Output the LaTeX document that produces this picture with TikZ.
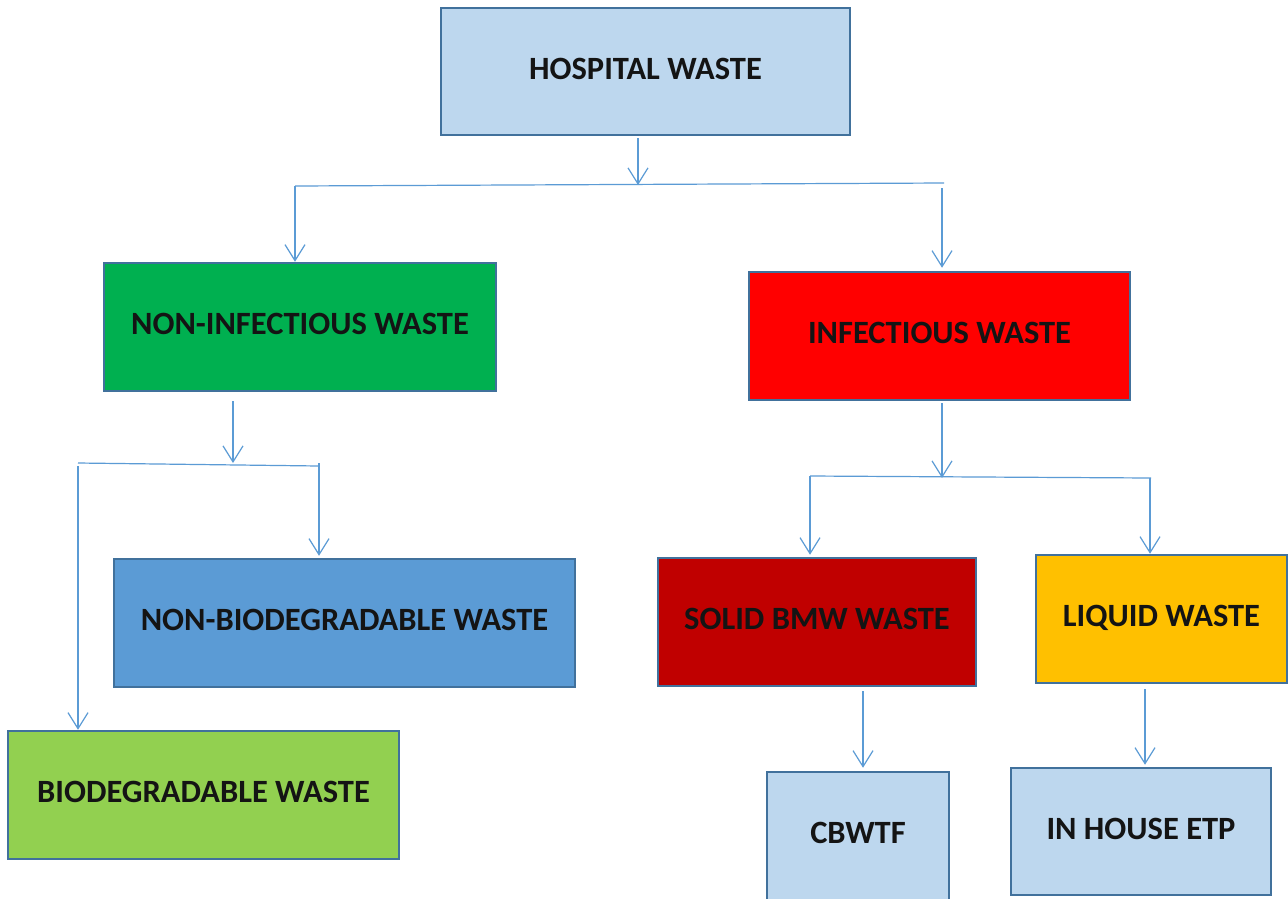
\documentclass[tikz,border=0pt]{standalone}
\usepackage{fontspec}
\setmainfont{Carlito}
\usetikzlibrary{arrows.meta}
\definecolor{lb}{HTML}{BDD7EE}
\definecolor{bord}{HTML}{41719C}
\definecolor{ln}{HTML}{5B9BD5}
\definecolor{gr}{HTML}{00B050}
\definecolor{rd}{HTML}{FF0000}
\definecolor{mb}{HTML}{5B9BD5}
\definecolor{lg}{HTML}{92D050}
\definecolor{dr}{HTML}{C00000}
\definecolor{gd}{HTML}{FFC000}
\definecolor{tx}{HTML}{141414}
\begin{document}
\begin{tikzpicture}[x=1pt,y=-1pt,
  box/.style={draw=bord, line width=2.5pt, font=\fontsize{32.5}{35}\selectfont\bfseries, text=tx, inner sep=0pt, text depth=6pt},
  conn/.style={draw=ln, line width=1.2pt},
  arr/.style={conn, -{Straight Barb[length=16pt,width=20pt,line width=1.2pt]}}]
\useasboundingbox (0,0) rectangle (1288,898);
\clip (0,0) rectangle (1288,898);
\fill[white] (0,0) rectangle (1288,898);
% boxes
\node[box, fill=lb, minimum width=409pt, minimum height=127pt] (hosp) at (645.5,71.5) {HOSPITAL WASTE};
\node[box, fill=gr, minimum width=392pt, minimum height=128pt] (noninf) at (300,327) {NON-INFECTIOUS WASTE};
\node[box, fill=rd, minimum width=381pt, minimum height=128pt] (inf) at (939.5,336) {INFECTIOUS WASTE};
\node[box, fill=mb, minimum width=461pt, minimum height=128pt] (nonbio) at (344.5,623) {NON-BIODEGRADABLE WASTE};
\node[box, fill=lg, minimum width=391pt, minimum height=128pt] (bio) at (203.5,795) {BIODEGRADABLE WASTE};
\node[box, fill=dr, minimum width=318pt, minimum height=128pt] (solid) at (817,622) {SOLID BMW WASTE};
\node[box, fill=gd, minimum width=251pt, minimum height=128pt] (liquid) at (1161.5,619) {LIQUID WASTE};
\node[box, fill=lb, minimum width=182pt, minimum height=128pt] (cbwtf) at (858,836) {CBWTF};
\node[box, fill=lb, minimum width=260pt, minimum height=127pt] (etp) at (1141,831.5) {IN HOUSE ETP};
% junctions
\coordinate (h1) at (638,185);
\coordinate (hL) at (295,186);
\coordinate (hR) at (944,183);
\coordinate (hRv) at (942,188);
\coordinate (k1) at (233,463);
\coordinate (kL) at (78,463);
\coordinate (kLv) at (78,466);
\coordinate (kR) at (319,466);
\coordinate (kRv) at (319,463);
\coordinate (m1) at (942,478);
\coordinate (mL) at (810,476);
\coordinate (mR) at (1151,478);
\coordinate (mRv) at (1150,478);
\coordinate (s1) at (863,0);
\coordinate (l1) at (1145,0);
% connectors
\draw[arr, shorten <=2pt] (hosp.south -| h1) -- (h1);
\draw[conn] (hL) -- (hR);
\draw[arr] (hL) -- (noninf.north -| hL);
\draw[arr, shorten >=3pt] (hRv) -- (inf.north -| hRv);
\draw[arr, shorten <=9pt] (noninf.south -| k1) -- (k1);
\draw[conn] (kL) -- (kR);
\draw[arr] (kLv) -- (bio.north -| kLv);
\draw[arr, shorten >=2pt] (kRv) -- (nonbio.north -| kRv);
\draw[arr, shorten <=2pt] (inf.south -| m1) -- (m1);
\draw[conn] (mL) -- (mR);
\draw[arr, shorten >=2pt] (mL) -- (solid.north -| mL);
\draw[arr] (mRv) -- (liquid.north -| mRv);
\draw[arr, shorten <=4pt, shorten >=3pt] (solid.south -| s1) -- (cbwtf.north -| s1);
\draw[arr, shorten <=5pt, shorten >=2pt] (liquid.south -| l1) -- (etp.north -| l1);
\end{tikzpicture}
\end{document}
